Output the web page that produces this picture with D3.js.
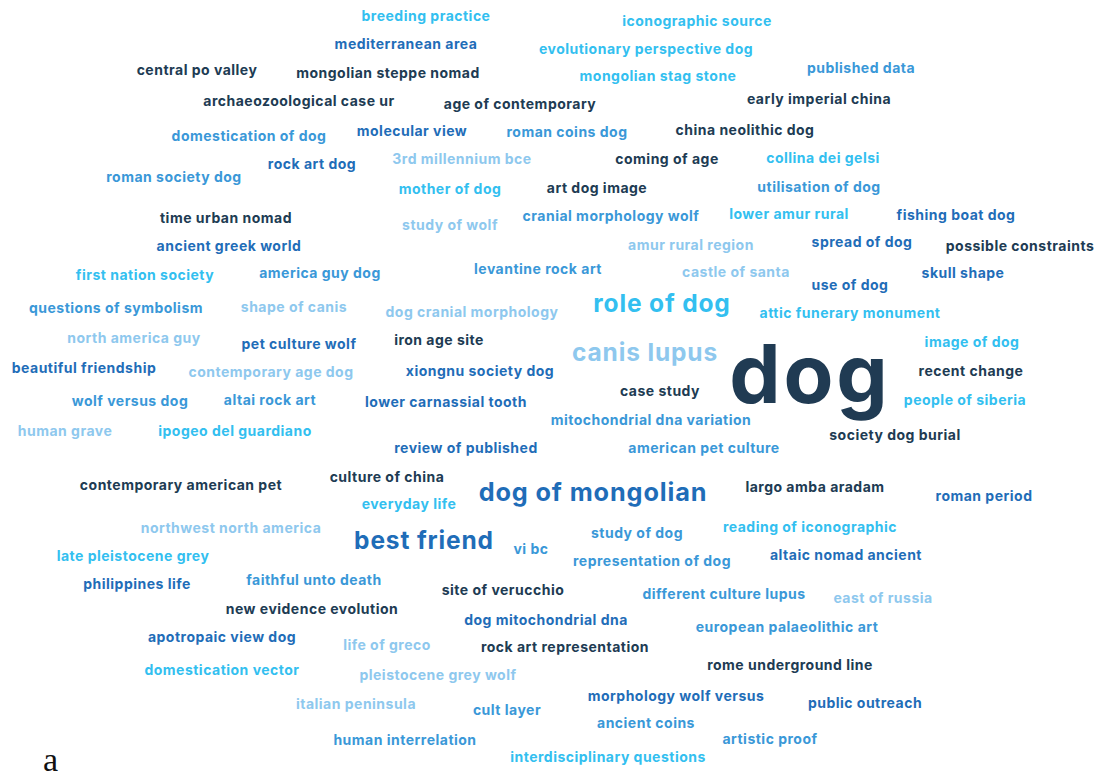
<!DOCTYPE html>
<html>
<head>
<meta charset="utf-8">
<script src="https://cdn.jsdelivr.net/npm/d3@7"></script>
<style>
  body { margin: 0; background: #fff; overflow: hidden; }
  .word { font-family: "Inter", "Roboto", sans-serif; font-weight: 700; letter-spacing: 0.035em; }
  .stray { font-family: "Liberation Serif", "DejaVu Serif", serif; font-weight: 400; font-size: 34px; fill: #111; }
</style>
</head>
<body>
<div class="cloud"></div>
<script>
// word cloud terms
var words = [
  "breeding practice", "iconographic source", "mediterranean area", "evolutionary perspective dog",
  "central po valley", "mongolian steppe nomad", "mongolian stag stone", "published data",
  "archaeozoological case ur", "age of contemporary", "early imperial china", "domestication of dog",
  "molecular view", "roman coins dog", "china neolithic dog", "3rd millennium bce",
  "coming of age", "collina dei gelsi", "roman society dog", "rock art dog",
  "mother of dog", "art dog image", "utilisation of dog", "time urban nomad",
  "study of wolf", "cranial morphology wolf", "lower amur rural", "fishing boat dog",
  "ancient greek world", "amur rural region", "spread of dog", "possible constraints",
  "first nation society", "america guy dog", "levantine rock art", "castle of santa",
  "skull shape", "use of dog", "questions of symbolism", "shape of canis",
  "dog cranial morphology", "role of dog", "attic funerary monument", "north america guy",
  "pet culture wolf", "iron age site", "canis lupus", "image of dog",
  "dog", "beautiful friendship", "contemporary age dog", "xiongnu society dog",
  "recent change", "case study", "wolf versus dog", "altai rock art",
  "lower carnassial tooth", "people of siberia", "mitochondrial dna variation", "human grave",
  "ipogeo del guardiano", "society dog burial", "review of published", "american pet culture",
  "culture of china", "contemporary american pet", "dog of mongolian", "largo amba aradam",
  "roman period", "everyday life", "northwest north america", "best friend",
  "study of dog", "reading of iconographic", "vi bc", "late pleistocene grey",
  "representation of dog", "altaic nomad ancient", "philippines life", "faithful unto death",
  "site of verucchio", "different culture lupus", "east of russia", "new evidence evolution",
  "dog mitochondrial dna", "european palaeolithic art", "apotropaic view dog", "life of greco",
  "rock art representation", "rome underground line", "domestication vector", "pleistocene grey wolf",
  "italian peninsula", "cult layer", "morphology wolf versus", "public outreach",
  "ancient coins", "human interrelation", "artistic proof", "interdisciplinary questions"
];

// relative weight of each term (drives font size)
var weights = [
  10, 10, 10, 10,  10, 10, 10, 10,  10, 10, 10, 10,
  10, 10, 10, 10,  10, 10, 10, 10,  10, 10, 10, 10,
  10, 10, 10, 10,  10, 10, 10, 10,  10, 10, 10, 10,
  10, 10, 10, 10,  10, 24, 10, 10,  10, 10, 24, 10,
  100, 10, 10, 10, 10, 10, 10, 10,  10, 10, 10, 10,
  10, 10, 10, 10,  10, 10, 25, 10,  10, 10, 10, 24,
  10, 10, 10, 10,  10, 10, 10, 10,  10, 10, 10, 10,
  10, 10, 10, 10,  10, 10, 10, 10,  10, 10, 10, 10,
  10, 10, 10, 10
];

// colour group of each term (0 navy, 1 blue, 2 mid blue, 3 cyan, 4 pale)
var groups = [
  3, 3, 1, 3,  0, 0, 3, 2,  0, 0, 0, 2,
  1, 2, 0, 4,  0, 3, 2, 1,  3, 0, 2, 0,
  4, 2, 3, 1,  1, 4, 1, 0,  3, 2, 2, 4,
  1, 1, 2, 4,  4, 3, 3, 4,  1, 0, 4, 3,
  0, 1, 4, 1,  0, 0, 2, 2,  1, 3, 2, 4,
  3, 0, 1, 2,  0, 0, 1, 0,  1, 3, 4, 1,
  2, 3, 2, 3,  2, 1, 1, 2,  0, 2, 4, 0,
  1, 2, 1, 4,  0, 0, 3, 4,  4, 2, 1, 1,
  2, 2, 2, 3
];

// layout position of each term in cloud units (centre of the word)
var cloudX = [
  426, 697, 406, 646,  197, 388, 658, 861,  299, 520, 819, 249,
  412, 567, 745, 462,  667, 823, 174, 312,  450, 597, 819, 226,
  450, 611, 789, 956,  229, 691, 862, 1020, 145, 320, 538, 736,
  963, 850, 116, 294,  472, 662, 850, 134,  299, 439, 645, 972,
  810, 84, 271, 480,   971, 660, 130, 270,  446, 965, 651, 65,
  235, 895, 466, 704,  387, 181, 593, 815,  984, 409, 231, 424,
  637, 810, 531, 133,  652, 846, 137, 314,  503, 724, 883, 312,
  546, 787, 222, 387,  565, 790, 222, 438,  356, 507, 676, 865,
  646, 405, 770, 608
];
var cloudY = [
  17, 22, 45, 50,  71, 74, 77, 69,  102, 105, 100, 137,
  132, 133, 131, 160,  160, 159, 178, 165,  190, 189, 188, 219,
  226, 217, 215, 216,  247, 246, 243, 247,  276, 274, 270, 273,
  274, 286, 309, 308,  313, 305, 314, 339,  345, 341, 354, 343,
  381, 369, 373, 372,  372, 392, 402, 401,  403, 401, 421, 432,
  432, 436, 449, 449,  478, 486, 494, 488,  497, 505, 529, 542,
  534, 528, 550, 557,  562, 556, 585, 581,  591, 595, 599, 610,
  621, 628, 638, 646,  648, 666, 671, 676,  705, 711, 697, 704,
  724, 741, 740, 758
];

var svgWidth = 1102;
var svgHeight = 780;

var svg = d3.select(".cloud")
  .append("svg")
  .attr("width", svgWidth)
  .attr("height", svgHeight);

var xScale = d3.scaleLinear().domain([0, 1102]).range([0, svgWidth]);
var yScale = d3.scaleLinear().domain([0, 780]).range([0, svgHeight]);
var sizeScale = d3.scaleLinear().domain([10, 100]).range([14, 81.5]);
var colorScale = d3.scaleOrdinal()
  .domain([0, 1, 2, 3, 4])
  .range(["#203b53", "#1f6db8", "#3a98d8", "#33bff0", "#8ec8ee"]);

var data = words.map(function(w, i) {
  return { text: w, weight: weights[i], group: groups[i], x: cloudX[i], y: cloudY[i] };
});

svg.append("g")
  .selectAll("text")
  .data(data)
  .enter()
  .append("text")
  .attr("class", "word")
  .attr("text-anchor", "middle")
  .attr("x", d => xScale(d.x))
  .attr("y", d => yScale(d.y) + sizeScale(d.weight) * 0.27)
  .attr("font-size", d => sizeScale(d.weight) + "px")
  .attr("fill", d => colorScale(d.group))
  .text(d => d.text);

// stray label below the cloud
svg.append("text")
  .attr("class", "stray")
  .attr("x", 43)
  .attr("y", 771)
  .text("a");
</script>
</body>
</html>
